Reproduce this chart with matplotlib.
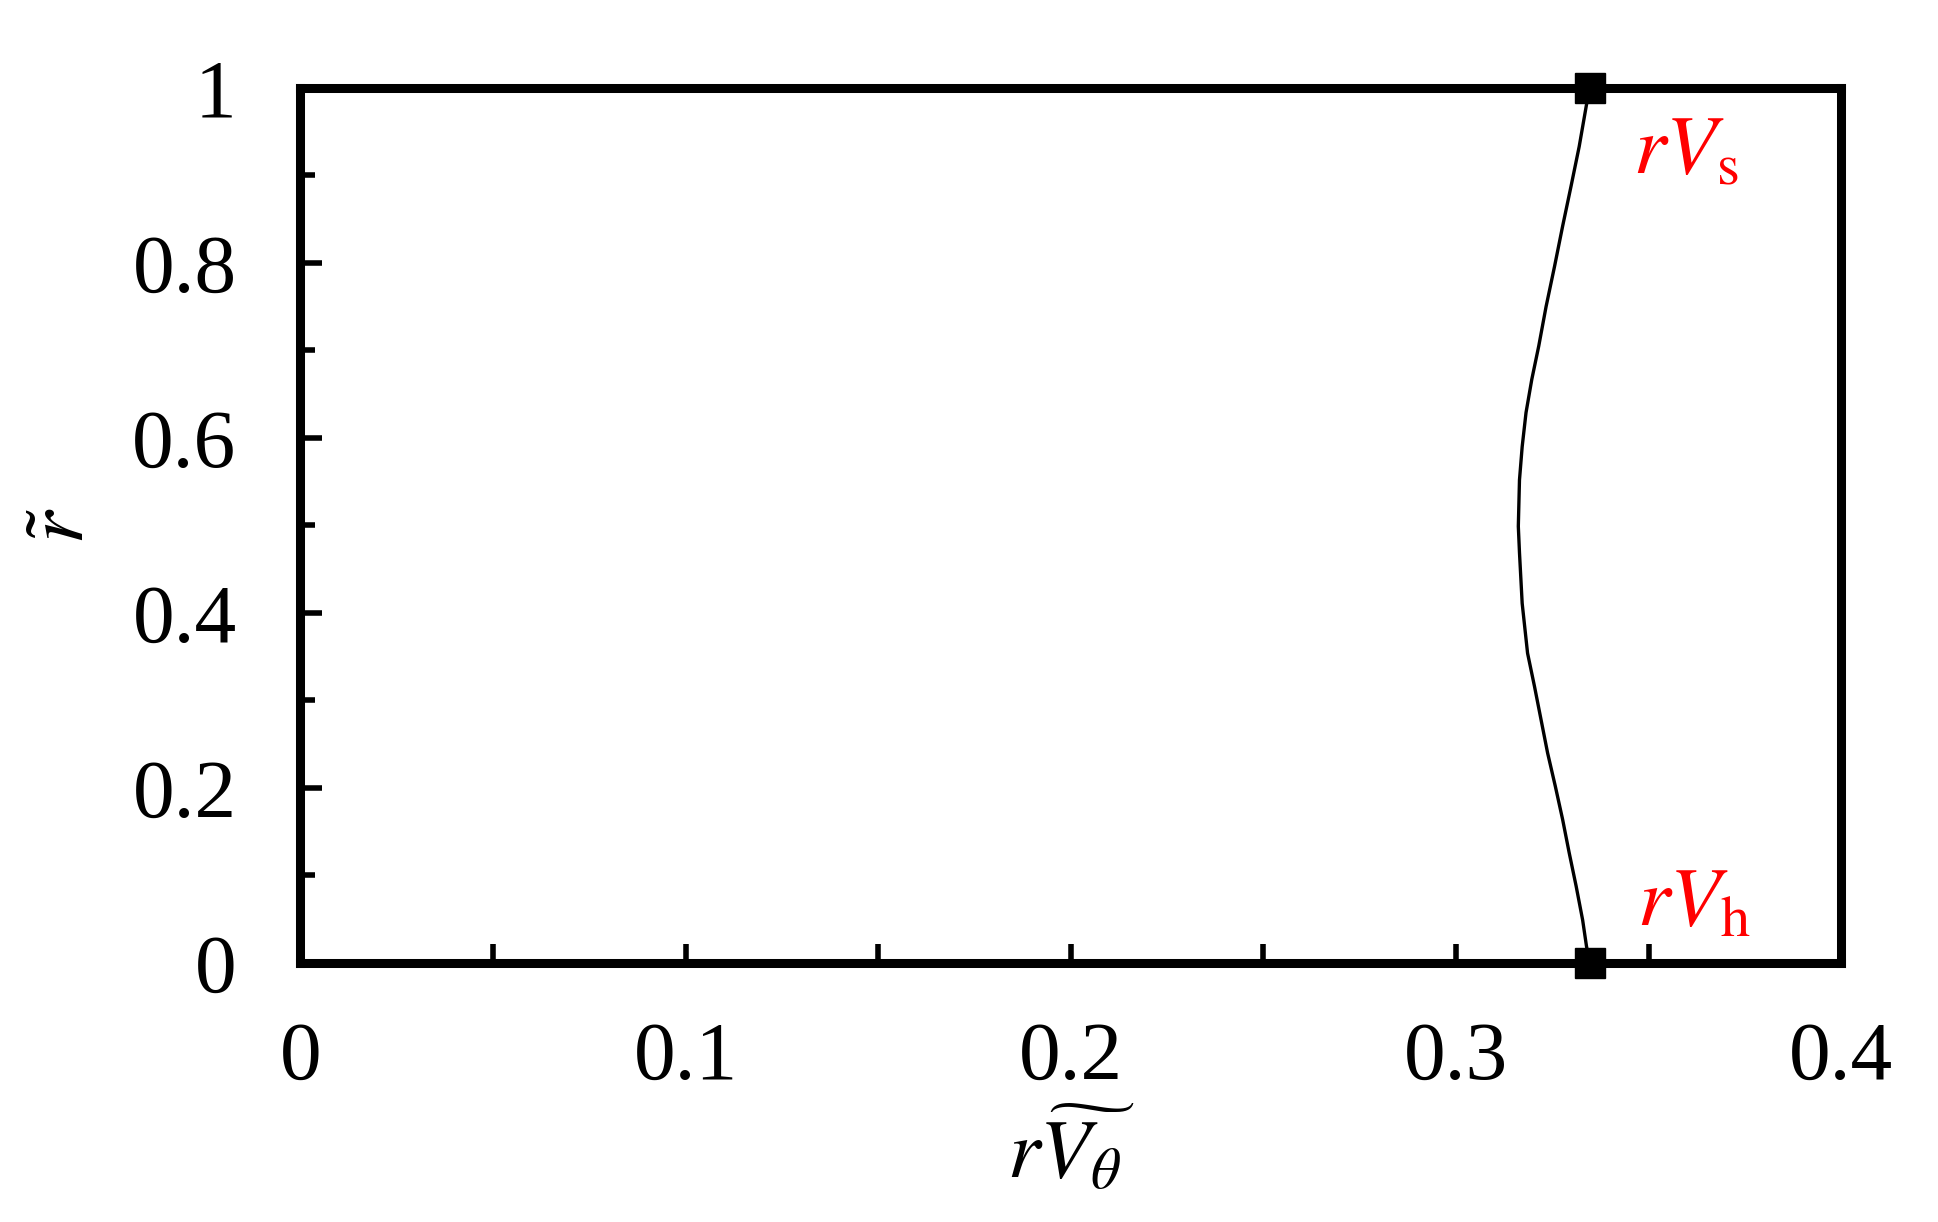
import numpy as np
import matplotlib
matplotlib.use("Agg")
import matplotlib.pyplot as plt
from matplotlib.ticker import MultipleLocator

# curve: r~ (radius) vs r*V_theta~
r_tilde = [0.0, 0.019, 0.049, 0.088, 0.126, 0.164, 0.202, 0.240, 0.278, 0.316,
           0.354, 0.411, 0.469, 0.499, 0.552, 0.590, 0.629, 0.667, 0.705, 0.750,
           0.796, 0.842, 0.888, 0.933, 0.981, 1.0]
rv_theta = [0.3348, 0.3339, 0.3329, 0.3312, 0.3294, 0.3277, 0.3258, 0.3238, 0.3221, 0.3204,
            0.3186, 0.3172, 0.3165, 0.3162, 0.3165, 0.3172, 0.3182, 0.3197, 0.3215, 0.3234,
            0.3256, 0.3277, 0.3299, 0.3320, 0.3339, 0.3348]

# end points (hub and shroud)
end_r = [0.0, 1.0]
end_rv = [0.3348, 0.3348]
end_labels = ['$rV_\\mathrm{h}$', '$rV_\\mathrm{s}$']

plt.rcParams['font.family'] = ['Liberation Serif', 'DejaVu Serif']
plt.rcParams['mathtext.fontset'] = 'stix'

fig = plt.figure(figsize=(19.38, 12.22), dpi=100)
ax = fig.add_axes([0.155, 0.212, 0.795, 0.716])

ax.plot(rv_theta, r_tilde, color='black', linewidth=2.4)
ax.plot(end_rv, end_r, linestyle='none', marker='s', markersize=22,
        color='black', clip_on=False, zorder=5)

ax.text(0.346, 0.925, end_labels[1], color='red', fontsize=60, ha='left', va='center')
ax.text(0.347, 0.065, end_labels[0], color='red', fontsize=60, ha='left', va='center')

ax.set_xlim(0, 0.4)
ax.set_ylim(0, 1)
ax.xaxis.set_major_locator(MultipleLocator(0.1))
ax.xaxis.set_minor_locator(MultipleLocator(0.05))
ax.yaxis.set_major_locator(MultipleLocator(0.2))
ax.yaxis.set_minor_locator(MultipleLocator(0.1))
ax.xaxis.set_major_formatter(lambda v, p: f'{v:g}')
ax.yaxis.set_major_formatter(lambda v, p: f'{v:g}')

for s in ax.spines.values():
    s.set_linewidth(6.5)

ax.tick_params(axis='x', which='both', direction='in', length=14, width=4,
               labelsize=60, pad=42, top=False)
ax.tick_params(axis='y', which='major', direction='in', length=16, width=4,
               labelsize=60, pad=46, right=False)
ax.tick_params(axis='y', which='minor', direction='in', length=11, width=4,
               right=False)

ax.set_xlabel('$r\\widetilde{V_\\theta}$', fontsize=60, labelpad=6)
ax.set_ylabel('$\\tilde{r}$', fontsize=60, labelpad=22)

fig.savefig('out.png', dpi=100)
